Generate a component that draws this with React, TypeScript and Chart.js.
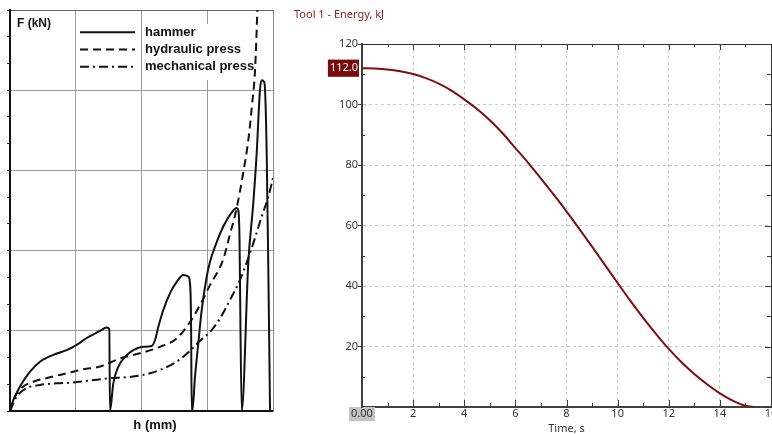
import React, { useEffect, useRef } from 'react';
import { Chart, registerables } from 'chart.js';

Chart.register(...registerables);

// ---------- Left panel: force vs stroke ----------
const hammerH = [0, 0.5, 1.52, 3.04, 4.56, 6.59, 8.62, 10.15, 11.67, 13.69, 14.71, 15.1, 15.21,
  15.71, 16.47, 17.49, 18.75, 20.27, 21.55, 22.06, 22.56, 23.32, 24.34, 25.36, 26.36, 27.12, 27.38, 27.53, 27.64,
  27.73, 28.14, 28.64, 29.16, 29.92, 30.42, 31.18, 32.44, 33.46, 34.48, 34.72, 34.88, 35.24,
  36.25, 37.0, 37.52, 38.02, 38.28, 38.63, 38.79, 39.04, 39.29, 39.55];
const hammerF = [0, 2.7, 6.1, 9.8, 12.3, 14.0, 15.2, 16.5, 18.2, 20.0, 20.8, 20.4, 0,
  6.9, 11.0, 13.5, 15.2, 16.0, 16.2, 17.7, 21.0, 25.2, 29.4, 32.2, 33.9, 33.5, 31.8, 23.5, 0,
  0, 8.6, 16.9, 25.2, 33.5, 37.2, 41.0, 46.0, 48.9, 50.6, 50.1, 45.1, 0,
  37.2, 51.8, 64.3, 80.1, 82.5, 82.1, 80.1, 64.3, 35.2, 0];

const hydraulicH = [0, 0.76, 2.02, 3.54, 6.08, 8.62, 11.15, 13.69, 16.73, 19.77, 22.81, 25.35, 27.38, 28.9, 30.42, 32.4, 33.46, 34.48, 35.49, 36.25, 36.81, 37.27, 37.62, 37.8];
const hydraulicF = [0, 3.6, 6.1, 7.3, 8.4, 9.4, 10.4, 11.1, 13.1, 14.4, 16.0, 18.1, 22.2, 26.4, 31.4, 37.7, 44.1, 50.6, 59.6, 67.6, 76.3, 85.0, 100, 110];

const mechanicalH = [0, 1.02, 2.54, 4.56, 7.1, 9.63, 12.17, 15.21, 18.25, 21.29, 23.32, 25.36, 27.38, 28.9, 30.42, 31.94, 33.46, 34.98, 36.04, 37.0, 38.28, 39.29, 40.0];
const mechanicalF = [0, 3.6, 5.7, 6.5, 6.9, 7.1, 7.6, 8.2, 8.5, 9.4, 10.6, 12.3, 15.0, 17.5, 19.7, 23.1, 27.7, 32.7, 37.2, 41.8, 48.5, 53.4, 58.1];

const seriesLabels = ['hammer', 'hydraulic press', 'mechanical press'];
const forceTicks = [0, 6.667, 13.333, 20, 26.667, 33.333, 40, 46.667, 53.333, 60, 66.667, 73.333, 80, 86.667, 93.333, 100];

// ---------- Right panel: tool energy vs time ----------
const timeS = [0, 0.5, 1, 1.5, 2, 2.5, 3, 3.5, 4, 4.5, 5, 5.5, 6, 6.5, 7, 7.5, 8, 8.5, 9, 9.5, 10, 10.5, 11, 11.5, 12, 12.5, 13, 13.5, 14, 14.5, 15, 15.35];
const energyKJ = [112, 111.9, 111.6, 111, 110.1, 108.7, 106.9, 104.6, 101.7, 98.5, 94.8, 90.5, 85.6, 80.7, 75.5, 70.2, 64.7, 58.9, 53.0, 47.0, 41.0, 35.1, 29.5, 24.2, 19.2, 14.8, 10.9, 7.5, 4.5, 2.1, 0.4, 0];
const energyTicks = [0, 10, 20, 30, 40, 50, 60, 70, 80, 90, 100, 110, 112, 120];
const timeMinorTicks = [0, 1, 2, 3, 4, 5, 6, 7, 8, 9, 10, 11, 12, 13, 14, 15, 16];
const markerValue = 112;

const pts = (xs: number[], ys: number[]) => xs.map((x, i) => ({ x, y: ys[i] }));
const LFONT = '"Liberation Sans", Arial, sans-serif';
const RFONT = '"Noto Sans", "Open Sans", sans-serif';

const leftDecor = {
  id: 'leftDecor',
  beforeDatasetsDraw(chart: any) {
    const { ctx, chartArea: ca } = chart;
    ctx.save();
    ctx.fillStyle = '#ffffff';
    ctx.fillRect(ca.left + 134, ca.top + 14, 108, 56);
    ctx.restore();
  },
  afterDatasetsDraw(chart: any) {
    const { ctx, chartArea: ca } = chart;
    ctx.save();
    chart.data.datasets.forEach((ds: any, i: number) => {
      const y = ca.top + 22.3 + i * 17.2;
      ctx.strokeStyle = ds.borderColor;
      ctx.lineWidth = 2;
      ctx.setLineDash(ds.borderDash || []);
      ctx.beginPath();
      ctx.moveTo(ca.left + 70, y);
      ctx.lineTo(ca.left + 125, y);
      ctx.stroke();
      ctx.setLineDash([]);
      ctx.fillStyle = '#111';
      ctx.font = `bold 13px ${LFONT}`;
      ctx.textBaseline = 'middle';
      ctx.textAlign = 'left';
      ctx.fillText(ds.label, ca.left + 135, y);
    });
    ctx.fillStyle = '#111';
    ctx.font = `bold 12px ${LFONT}`;
    ctx.textAlign = 'left';
    ctx.textBaseline = 'middle';
    ctx.fillText('F (kN)', ca.left + 7, ca.top + 14);
    ctx.font = `bold 13px ${LFONT}`;
    ctx.textAlign = 'center';
    ctx.fillText('h (mm)', ca.left + 145, ca.bottom + 14);
    ctx.restore();
  },
};

const innerTicks = {
  id: 'innerTicks',
  afterDraw(chart: any) {
    const { ctx, chartArea: ca, scales } = chart;
    const x = scales.x;
    const y = scales.y;
    ctx.save();
    ctx.strokeStyle = '#3a3a3a';
    ctx.lineWidth = 1;
    ctx.beginPath();
    timeMinorTicks.forEach((v) => {
      const px = Math.round(x.getPixelForValue(v)) + 0.5;
      const major = v % 2 === 0;
      ctx.moveTo(px, ca.bottom);
      ctx.lineTo(px, ca.bottom - (major ? 7 : 4));
      ctx.moveTo(px, ca.top);
      ctx.lineTo(px, ca.top + (major ? 6 : 3));
    });
    energyTicks.forEach((v) => {
      if (v % 10 !== 0) return;
      const py = Math.round(y.getPixelForValue(v)) + 0.5;
      const major = v % 20 === 0;
      if (!major) {
        ctx.moveTo(ca.left, py);
        ctx.lineTo(ca.left + 3, py);
      }
      ctx.moveTo(ca.right, py);
      ctx.lineTo(ca.right - (major ? 6 : 4), py);
    });
    ctx.stroke();
    ctx.restore();
  },
};

export default function App() {
  const leftRef = useRef<HTMLCanvasElement>(null);
  const rightRef = useRef<HTMLCanvasElement>(null);

  useEffect(() => {
    const ink = '#111111';
    const left = new Chart(leftRef.current as HTMLCanvasElement, {
      type: 'line',
      data: {
        datasets: [
          { label: seriesLabels[0], data: pts(hammerH, hammerF), borderColor: ink, borderWidth: 2, pointRadius: 0, cubicInterpolationMode: 'monotone', fill: false },
          { label: seriesLabels[1], data: pts(hydraulicH, hydraulicF), borderColor: ink, borderWidth: 2, borderDash: [8, 5], pointRadius: 0, cubicInterpolationMode: 'monotone', fill: false },
          { label: seriesLabels[2], data: pts(mechanicalH, mechanicalF), borderColor: ink, borderWidth: 2, borderDash: [9, 4, 2, 4], pointRadius: 0, cubicInterpolationMode: 'monotone', fill: false },
        ],
      } as any,
      options: {
        responsive: false,
        animation: false,
        devicePixelRatio: 1,
        layout: { padding: 0 },
        plugins: { legend: { display: false }, tooltip: { enabled: false }, title: { display: false } },
        scales: {
          x: {
            type: 'linear', position: 'bottom', min: 0, max: 40,
            ticks: { display: false, stepSize: 10 },
            grid: { color: '#9c9c9c', lineWidth: 1, drawTicks: false },
            border: { color: ink, width: 2 },
            afterFit(s: any) { s.height = 23; s.paddingLeft = 0; s.paddingRight = 0; },
          },
          xTop: {
            type: 'linear', position: 'top', min: 0, max: 40,
            ticks: { display: false },
            grid: { display: false, drawTicks: false },
            border: { color: '#666', width: 1 },
            afterFit(s: any) { s.height = 10; s.paddingLeft = 0; s.paddingRight = 0; },
          },
          y: {
            type: 'linear', position: 'left', min: 0, max: 100,
            afterBuildTicks(s: any) { s.ticks = forceTicks.map((v) => ({ value: v })); },
            ticks: { display: false },
            grid: {
              color: (c: any) => (c.index % 3 === 0 && c.index < 15 ? '#9c9c9c' : 'rgba(0,0,0,0)'),
              drawTicks: true, tickLength: 3, tickColor: '#222', tickWidth: 1,
            },
            border: { color: ink, width: 2 },
            afterFit(s: any) { s.width = 10; s.paddingTop = 0; s.paddingBottom = 0; },
          },
          yRight: {
            type: 'linear', position: 'right', min: 0, max: 100,
            ticks: { display: false },
            grid: { display: false, drawTicks: false },
            border: { color: '#8a8a8a', width: 1 },
            afterFit(s: any) { s.width = 17; s.paddingTop = 0; s.paddingBottom = 0; },
          },
        },
      } as any,
      plugins: [leftDecor],
    });

    const right = new Chart(rightRef.current as HTMLCanvasElement, {
      type: 'line',
      data: {
        datasets: [
          { label: 'Energy', data: pts(timeS, energyKJ), borderColor: '#7a1010', borderWidth: 2, pointRadius: 0, cubicInterpolationMode: 'monotone', fill: false },
        ],
      } as any,
      options: {
        responsive: false,
        animation: false,
        devicePixelRatio: 1,
        layout: { padding: { left: 4, top: 0, right: 0, bottom: 0 } },
        plugins: {
          legend: { display: false },
          tooltip: { enabled: false },
          title: {
            display: true, text: 'Tool 1 - Energy, kJ', align: 'start', color: '#8a1c1c',
            font: { family: RFONT, size: 11, weight: 'normal', lineHeight: 1.2 },
            padding: { top: 8, bottom: 0 },
          },
        },
        scales: {
          x: {
            type: 'linear', position: 'bottom', min: 0, max: 16,
            ticks: {
              stepSize: 2, autoSkip: false, maxRotation: 0, padding: 0, color: '#333',
              font: { family: RFONT, size: 11 },
              callback: (v: any) => (v === 0 ? '0.00' : String(v)),
              showLabelBackdrop: (c: any) => !!c.tick && c.tick.value === 0,
              backdropColor: '#c3c3c3',
              backdropPadding: { top: 1, bottom: 1, left: 2, right: 2 },
            },
            grid: { color: '#c8c8c8', lineWidth: 1, drawTicks: false },
            border: { color: '#404040', width: 2, dash: [3, 3] },
            title: { display: true, text: 'Time, s', color: '#333', font: { family: RFONT, size: 11, lineHeight: 1 }, padding: { top: 0, bottom: 0 } },
            afterFit(s: any) { s.height = 27; s.paddingLeft = 0; s.paddingRight = 0; },
          },
          xTop: {
            type: 'linear', position: 'top', min: 0, max: 16,
            ticks: { display: false },
            grid: { display: false, drawTicks: false },
            border: { color: '#333', width: 1 },
            afterFit(s: any) { s.height = 22.8; s.paddingLeft = 0; s.paddingRight = 0; },
          },
          y: {
            type: 'linear', position: 'left', min: 0, max: 120,
            afterBuildTicks(s: any) { s.ticks = energyTicks.map((v) => ({ value: v })); },
            ticks: {
              autoSkip: false, padding: 0,
              color: (c: any) => (c.tick && c.tick.value === markerValue ? '#ffffff' : '#333'),
              font: { family: RFONT, size: 11 },
              callback: (v: any) => (v === markerValue ? '112.0' : v % 20 === 0 && v !== 0 ? String(v) : ''),
              showLabelBackdrop: (c: any) => !!c.tick && c.tick.value === markerValue,
              backdropColor: '#7a0a0a',
              backdropPadding: { top: 2, bottom: 2, left: 2, right: 1 },
            },
            grid: {
              color: (c: any) => (c.tick && c.tick.value % 20 === 0 ? '#c8c8c8' : 'rgba(0,0,0,0)'),
              drawTicks: true, tickLength: 4,
              tickColor: (c: any) => (c.tick && c.tick.value % 20 === 0 ? '#404040' : 'rgba(0,0,0,0)'),
            },
            border: { color: '#404040', width: 2, dash: [3, 3] },
            afterFit(s: any) { s.width = 68; s.paddingTop = 0; s.paddingBottom = 0; },
          },
          yRight: {
            type: 'linear', position: 'right', min: 0, max: 120,
            ticks: { display: false },
            grid: { display: false, drawTicks: false },
            border: { color: '#333', width: 1 },
            afterFit(s: any) { s.width = 1; s.paddingTop = 0; s.paddingBottom = 0; },
          },
        },
      } as any,
      plugins: [innerTicks],
    });

    return () => {
      left.destroy();
      right.destroy();
    };
  }, []);

  return (
    <div style={{ position: 'fixed', left: 0, top: 0, width: 772, height: 434, background: '#ffffff' }}>
      <canvas ref={leftRef} width={290} height={434} style={{ position: 'absolute', left: 0, top: 0, width: 290, height: 434 }} />
      <canvas ref={rightRef} width={482} height={434} style={{ position: 'absolute', left: 290, top: 0, width: 482, height: 434 }} />
    </div>
  );
}
